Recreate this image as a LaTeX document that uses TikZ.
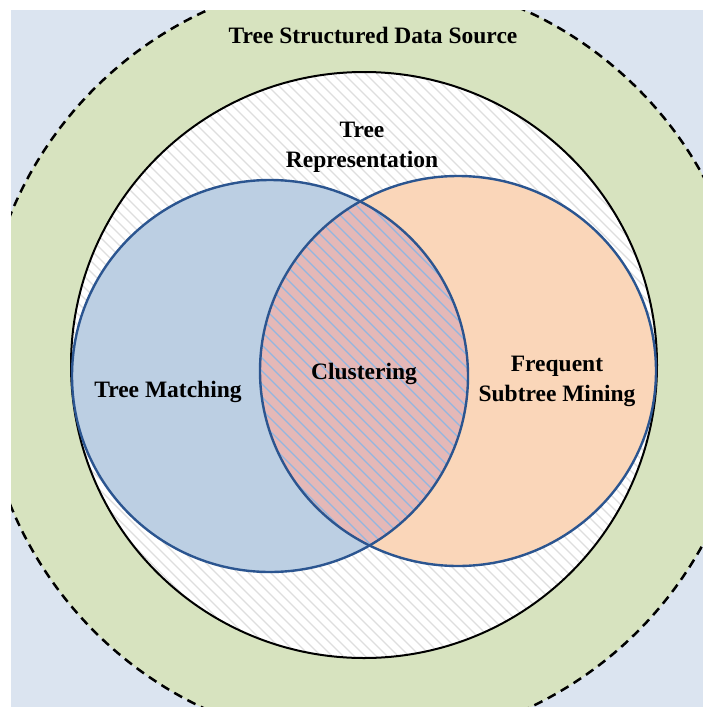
\documentclass[tikz,border=0pt]{standalone}
\usepackage{fontspec}
\setmainfont{Liberation Serif}
\definecolor{bgblue}{HTML}{DBE4F0}
\definecolor{ringgreen}{HTML}{D7E3BF}
\definecolor{setblue}{HTML}{BCCFE3}
\definecolor{setorange}{HTML}{FAD6B9}
\definecolor{overlap}{HTML}{E5B8B7}
\definecolor{hatchblue}{HTML}{92B6E0}
\definecolor{hatchgrey}{HTML}{DEDEDE}
\definecolor{edgeblue}{HTML}{2B5590}
\tikzset{
  label text/.style={font=\bfseries\fontsize{23.5}{30}\selectfont, align=center, inner sep=0pt},
  source ring/.style={fill=ringgreen, draw=black, line width=2.5pt, dash pattern=on 9pt off 6pt},
  repr disc/.style={draw=black, line width=2pt},
  set edge/.style={draw=edgeblue, line width=2.4pt},
  grey hatch/.style={draw=hatchgrey, line width=1.1pt},
  blue hatch/.style={draw=hatchblue, line width=1.3pt},
}
\begin{document}
\begin{tikzpicture}[x=1pt, y=-1pt]
\useasboundingbox (0,0) rectangle (703,707);

% background panel; everything else stays inside it
\fill[bgblue] (11,10) rectangle (703,707);
\clip (11,10) rectangle (703,707);

% outer data source ring
\path[source ring] (366,360) circle[radius=384];

% tree representation disc with light hatching
\fill[white] (364,365) circle[radius=293];
\begin{scope}
  \clip (364,365) circle[radius=293];
  \foreach \c in {-720,-709,...,720}
    \draw[grey hatch] (\c,0) -- ++(740,740);
\end{scope}
\draw[repr disc] (364,365) circle[radius=293];

% the two sets
\fill[setblue] (270,376) ellipse[x radius=198, y radius=196];
\fill[setorange] (458,371) ellipse[x radius=198, y radius=195];

% overlap of the two sets
\begin{scope}
  \clip (270,376) ellipse[x radius=198, y radius=196];
  \fill[overlap] (458,371) ellipse[x radius=198, y radius=195];
  \clip (458,371) ellipse[x radius=198, y radius=195];
  \foreach \c in {-720,-707,...,720}
    \draw[blue hatch] (\c,0) -- ++(740,740);
\end{scope}

\draw[set edge] (270,376) ellipse[x radius=198, y radius=196];
\draw[set edge] (458,371) ellipse[x radius=198, y radius=195];

% labels
\node[label text] (source) at (373,35) {Tree Structured Data Source};
\node[label text] (repr) at (362,147) {Tree\\Representation};
\node[label text] (match) at (168,392) {Tree Matching};
\node[label text] (clust) at (364,374) {Clustering};
\node[label text] (mining) at (557,381) {Frequent\\Subtree Mining};
\end{tikzpicture}
\end{document}
